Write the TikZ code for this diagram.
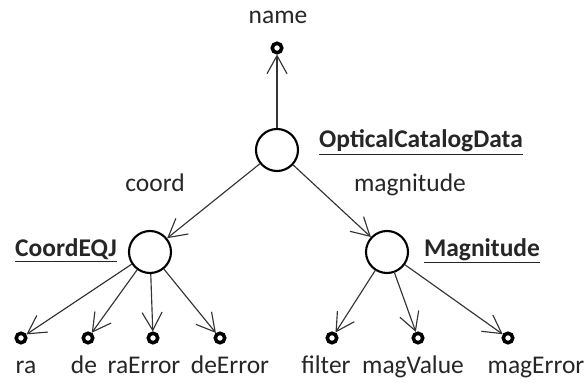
\documentclass[tikz,border=0pt]{standalone}
\usepackage{fontspec}
\setmainfont{Carlito}
\usepackage{tikz}
\usetikzlibrary{arrows.meta}

\begin{document}
\begin{tikzpicture}[x=0.02cm,y=-0.02cm]
  \useasboundingbox (0,0) rectangle (585,385);
  \tikzstyle{txt}=[font=\fontsize{14.5}{16}\selectfont, text=black!85, inner sep=1pt, anchor=base]
  \tikzstyle{obj}=[circle, draw, line width=1.2pt, minimum size=0.84cm, inner sep=0pt]
  \tikzstyle{attr}=[circle, draw, line width=2pt, minimum size=0.19cm, inner sep=0pt]
  \tikzstyle{link}=[-{Straight Barb[length=0.36cm,width=0.4cm]}, line width=0.65pt, black!80]
  % classes
  \node[obj] (pTop) at (277,150){};
  \node[obj] (pC) at (150,252){};
  \node[obj] (pM) at (387,252){};
  \node[txt] (lTop) at (421,148){\underline{\textbf{OpticalCatalogData}}};
  \node[txt] (lC) at (66,256){\underline{\textbf{CoordEQJ}}};
  \node[txt] (lM) at (482,256){\underline{\textbf{Magnitude}}};
  % name
  \node[attr] (aName) at (277,48){};
  \node[txt] (lName) at (278,24){name};
  \draw[link] (pTop) -- (aName);
  % roles
  \draw[link] (pTop) -- (pC);
  \draw[link] (pTop) -- (pM);
  \node[txt] (rC) at (155,192){coord};
  \node[txt] (rM) at (410,192){magnitude};
  % attributes
  \foreach \n/\x/\t in {ra/21/26,de/88/84,raError/153/144,deError/220/230}{
    \node[attr] (a\n) at (\x,338){};
    \node[txt] (l\n) at (\t,373){\n};
    \draw[link] (pC) -- (a\n);
  }
  \foreach \n/\x/\t in {filter/332/326,magValue/418/413,magError/508/536}{
    \node[attr] (a\n) at (\x,338){};
    \node[txt] (l\n) at (\t,373){\n};
    \draw[link] (pM) -- (a\n);
  }
\end{tikzpicture}
\end{document}
